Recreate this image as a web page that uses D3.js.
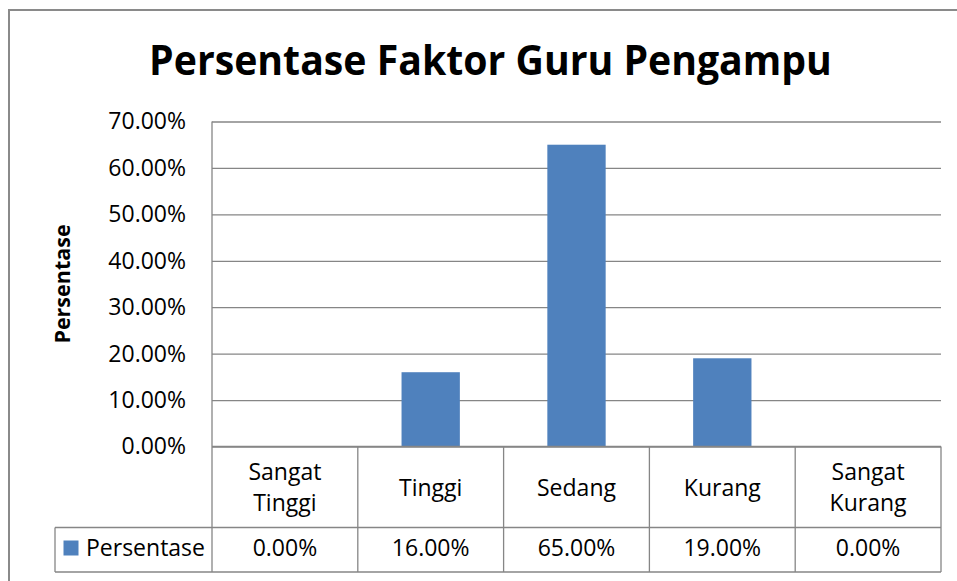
<!DOCTYPE html>
<html>
<head>
<meta charset="utf-8">
<script src="https://cdn.jsdelivr.net/npm/d3@7"></script>
<style>
  html, body { margin: 0; padding: 0; background: #fff; }
  svg { display: block; font-family: "Open Sans", sans-serif; }
</style>
</head>
<body>
<svg id="chart" width="957" height="581"></svg>
<script>
// ---- data ----
const categories = ["Sangat Tinggi", "Tinggi", "Sedang", "Kurang", "Sangat Kurang"];
const categoryLines = [["Sangat", "Tinggi"], ["Tinggi"], ["Sedang"], ["Kurang"], ["Sangat", "Kurang"]];
const values = [0.00, 0.16, 0.65, 0.19, 0.00];
const yTicks = [0, 0.1, 0.2, 0.3, 0.4, 0.5, 0.6, 0.7];
const seriesName = "Persentase";
const titleText = "Persentase Faktor Guru Pengampu";
const yAxisTitle = "Persentase";

// ---- layout ----
const svg = d3.select("#chart");
const plot = { left: 212, right: 941, top: 121.5, bottom: 446.5 };
const headerBottom = 527.5, tableBottom = 572, legendLeft = 55;
const gridColor = "#868686";
const barColor = "#4F81BD";
const fmt = d3.format(".2%");

const x = d3.scaleBand().domain(categories).range([plot.left, plot.right])
  .paddingInner(0.6).paddingOuter(0.3);
const xCell = d3.scaleBand().domain(categories).range([plot.left, plot.right]).padding(0);
const y = d3.scaleLinear().domain([0, 0.7]).range([plot.bottom, plot.top]);

// outer chart border
svg.append("rect").attr("x", 9).attr("y", 10).attr("width", 960).attr("height", 600)
  .attr("fill", "none").attr("stroke", "#8a8a8a").attr("stroke-width", 2);

// title (condensed horizontally to mimic a narrow face)
const titleG = svg.append("g");
const title = titleG.append("text").attr("x", 0).attr("y", 0)
  .attr("text-anchor", "middle").attr("font-weight", "bold").attr("font-size", 41)
  .attr("fill", "#000").text(titleText);
const tw = title.node().getComputedTextLength();
titleG.attr("transform", `translate(490.5,75) scale(${683 / tw},1)`);

// gridlines + y axis labels
const yAxis = d3.axisLeft(y).tickValues(yTicks).tickFormat(fmt)
  .tickSize(-(plot.right - plot.left)).tickPadding(26);
const gy = svg.append("g").attr("transform", `translate(${plot.left},0)`).call(yAxis);
gy.select(".domain").remove();
gy.selectAll(".tick line").attr("stroke", gridColor).attr("stroke-width", 1.3);
gy.selectAll(".tick text").attr("font-size", 23).attr("fill", "#000")
  .attr("font-family", "Open Sans, sans-serif");

// vertical axis line
svg.append("line").attr("x1", plot.left).attr("x2", plot.left)
  .attr("y1", plot.top).attr("y2", tableBottom)
  .attr("stroke", gridColor).attr("stroke-width", 1.3);

// y axis title
svg.append("text").attr("transform", `translate(70,284) rotate(-90)`)
  .attr("text-anchor", "middle").attr("font-weight", "bold").attr("font-size", 21.5)
  .attr("fill", "#000").text(yAxisTitle);

// bars
svg.append("g").selectAll("rect").data(values).join("rect")
  .attr("x", (d, i) => x(categories[i]))
  .attr("width", x.bandwidth())
  .attr("y", d => y(d))
  .attr("height", d => y(0) - y(d))
  .attr("fill", barColor);

// data table lines
const tbl = svg.append("g").attr("stroke", gridColor).attr("stroke-width", 1.3);
tbl.append("line").attr("x1", plot.left).attr("x2", plot.right)
  .attr("y1", plot.bottom).attr("y2", plot.bottom);
tbl.append("line").attr("x1", legendLeft).attr("x2", plot.right)
  .attr("y1", headerBottom).attr("y2", headerBottom);
tbl.append("line").attr("x1", legendLeft).attr("x2", plot.right)
  .attr("y1", tableBottom).attr("y2", tableBottom);
tbl.append("line").attr("x1", legendLeft).attr("x2", legendLeft)
  .attr("y1", headerBottom).attr("y2", tableBottom);
categories.forEach(c => {
  const xe = xCell(c) + xCell.bandwidth();
  tbl.append("line").attr("x1", xe).attr("x2", xe)
    .attr("y1", plot.bottom).attr("y2", tableBottom);
});

// category labels
const headerMid = (plot.bottom + headerBottom) / 2;
categories.forEach((c, i) => {
  const lines = categoryLines[i];
  const cx = xCell(c) + xCell.bandwidth() / 2;
  const lh = 31;
  lines.forEach((ln, j) => {
    const off = (j - (lines.length - 1) / 2) * lh;
    svg.append("text").attr("x", cx).attr("y", headerMid + off + 8.5)
      .attr("text-anchor", "middle").attr("font-size", 23).attr("fill", "#000").text(ln);
  });
});

// data row values
values.forEach((v, i) => {
  const c = categories[i];
  svg.append("text").attr("x", xCell(c) + xCell.bandwidth() / 2).attr("y", 556)
    .attr("text-anchor", "middle").attr("font-size", 23).attr("fill", "#000").text(fmt(v));
});

// legend key in table
svg.append("rect").attr("x", 63.5).attr("y", 540.5).attr("width", 15).attr("height", 15)
  .attr("fill", barColor);
svg.append("text").attr("x", 86).attr("y", 556).attr("font-size", 23).attr("fill", "#000")
  .text(seriesName);
</script>
</body>
</html>
